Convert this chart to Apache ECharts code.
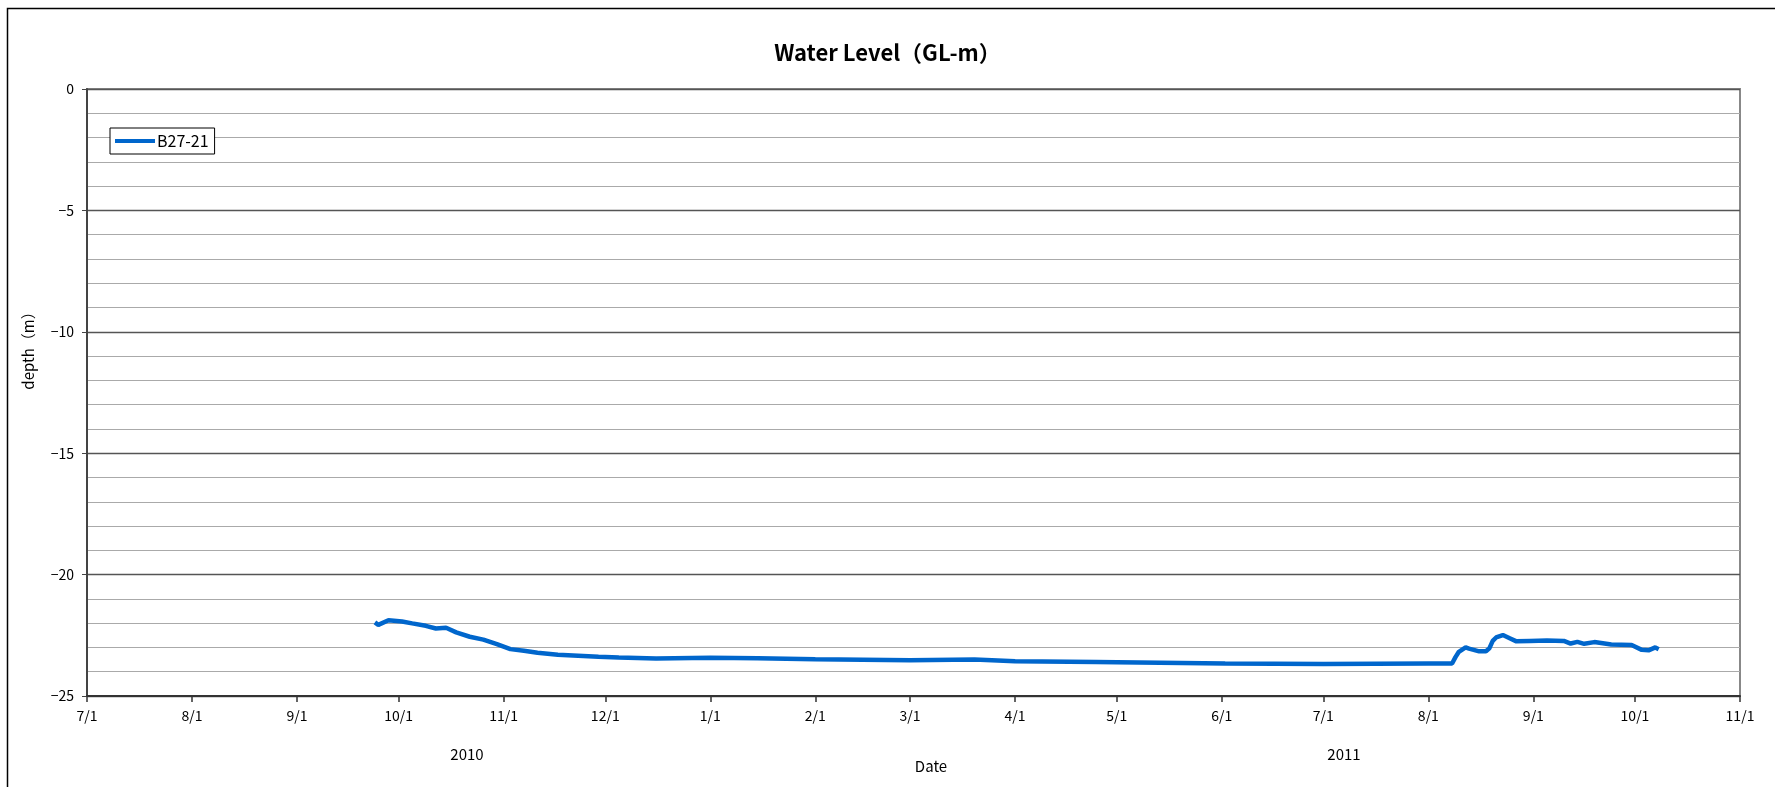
<!DOCTYPE html>
<html>
<head>
<meta charset="utf-8">
<script src="https://cdn.jsdelivr.net/npm/echarts@6/dist/echarts.min.js"></script>
<style>
html,body{margin:0;padding:0;background:#fff;}
#chart{width:1775px;height:787px;}
</style>
</head>
<body>
<div id="chart"></div>
<script>
const seriesName = 'B27-21';
const dates = ['2010-09-24','2010-09-25','2010-09-28','2010-10-02','2010-10-05','2010-10-09','2010-10-12','2010-10-15','2010-10-18','2010-10-22','2010-10-26','2010-10-30','2010-11-03','2010-11-07','2010-11-11','2010-11-17','2010-11-23','2010-11-29','2010-12-05','2010-12-16','2011-01-01','2011-01-15','2011-02-01','2011-03-01','2011-03-20','2011-04-01','2011-04-25','2011-05-01','2011-06-02','2011-07-01','2011-08-01','2011-08-08','2011-08-09','2011-08-10','2011-08-12','2011-08-13','2011-08-16','2011-08-18','2011-08-19','2011-08-20','2011-08-21','2011-08-23','2011-08-25','2011-08-27','2011-08-31','2011-09-05','2011-09-10','2011-09-12','2011-09-14','2011-09-16','2011-09-19','2011-09-24','2011-09-30','2011-10-03','2011-10-05','2011-10-07','2011-10-08'];
const depths = [-21.97,-22.07,-21.88,-21.93,-22.01,-22.11,-22.22,-22.19,-22.38,-22.56,-22.68,-22.86,-23.07,-23.14,-23.22,-23.30,-23.34,-23.38,-23.41,-23.46,-23.42,-23.45,-23.49,-23.53,-23.50,-23.57,-23.60,-23.61,-23.66,-23.68,-23.66,-23.66,-23.40,-23.18,-23.00,-23.05,-23.16,-23.16,-23.04,-22.73,-22.59,-22.49,-22.62,-22.75,-22.73,-22.71,-22.73,-22.84,-22.77,-22.85,-22.78,-22.88,-22.90,-23.10,-23.12,-23.00,-23.07];
const xMin = '2010-07-01';
const xMax = '2011-11-01';
const yearLabels = ['2010', '2011'];
const titleText = 'Water Level（GL-m）';
const yName = 'depth（m）';
const xName = 'Date';

const FONT = '"Noto Sans CJK JP", "Noto Sans", sans-serif';
const DAY = 86400000;
const chart = echarts.init(document.getElementById('chart'));
chart.setOption({
  backgroundColor: '#fff',
  animation: false,
  textStyle: { fontFamily: FONT, color: '#000' },
  title: {
    text: titleText, left: 'center', top: 37,
    textStyle: { fontFamily: FONT, fontSize: 22, fontWeight: 'bold', color: '#000' }
  },
  legend: {
    left: 110, top: 128, orient: 'vertical',
    padding: [5, 6, 5, 5],
    icon: 'rect',
    itemWidth: 40, itemHeight: 4, itemGap: 4,
    backgroundColor: '#fff', borderColor: '#000', borderWidth: 1, borderRadius: 0,
    textStyle: { fontFamily: FONT, fontSize: 16, color: '#000', padding: [0, 0, 0, -3] },
    data: [seriesName]
  },
  grid: {
    left: 87, right: 35, top: 89, bottom: 91,
    show: true, borderColor: '#888', borderWidth: 2,
    outerBoundsMode: 'none'
  },
  xAxis: {
    type: 'time', min: xMin, max: xMax,
    minInterval: 30 * DAY, maxInterval: 30 * DAY,
    axisLine: { show: true, onZero: false, lineStyle: { color: '#333', width: 2 } },
    axisTick: { show: true, length: 6, lineStyle: { color: '#333', width: 1.5 } },
    splitLine: { show: false },
    axisLabel: {
      margin: 13, fontSize: 14, color: '#000', fontFamily: FONT,
      hideOverlap: false, showMinLabel: true, showMaxLabel: true,
      formatter: function (v) { const d = new Date(v); return (d.getMonth() + 1) + '/' + d.getDate(); }
    }
  },
  yAxis: {
    type: 'value', min: -25, max: 0, interval: 5,
    axisLine: { show: true, lineStyle: { color: '#444', width: 2 } },
    axisTick: { show: true, length: 5, lineStyle: { color: '#444' } },
    axisLabel: {
      margin: 13, fontSize: 14, color: '#000', fontFamily: FONT,
      formatter: function (v) { return String(v).replace('-', '\u2212'); }
    },
    splitLine: { show: true, lineStyle: { color: '#555', width: 1.3 } },
    minorTick: { show: false, splitNumber: 5 },
    minorSplitLine: { show: true, lineStyle: { color: '#aaa', width: 1.2 } }
  },
  graphic: [
    { type: 'rect', left: 5, top: 6, shape: { width: 1800, height: 820 }, style: { fill: 'none', stroke: '#000', lineWidth: 1.5 }, silent: true, z: -10 },
    { type: 'text', x: 28, y: 347, rotation: Math.PI / 2, style: { text: yName, font: '15px ' + FONT, fill: '#000', textAlign: 'center', textVerticalAlign: 'middle' } },
    { type: 'text', x: 467, y: 754, style: { text: yearLabels[0], font: '15px ' + FONT, fill: '#000', textAlign: 'center', textVerticalAlign: 'middle' } },
    { type: 'text', x: 1344, y: 754, style: { text: yearLabels[1], font: '15px ' + FONT, fill: '#000', textAlign: 'center', textVerticalAlign: 'middle' } },
    { type: 'text', x: 931, y: 766, style: { text: xName, font: '15px ' + FONT, fill: '#000', textAlign: 'center', textVerticalAlign: 'middle' } }
  ],
  series: [{
    name: seriesName, type: 'line', showSymbol: false, symbol: 'none',
    data: dates.map((d, i) => [d, depths[i]]),
    lineStyle: { color: '#0066cc', width: 4.5 },
    itemStyle: { color: '#0066cc' },
    z: 5
  }]
});
</script>
</body>
</html>
